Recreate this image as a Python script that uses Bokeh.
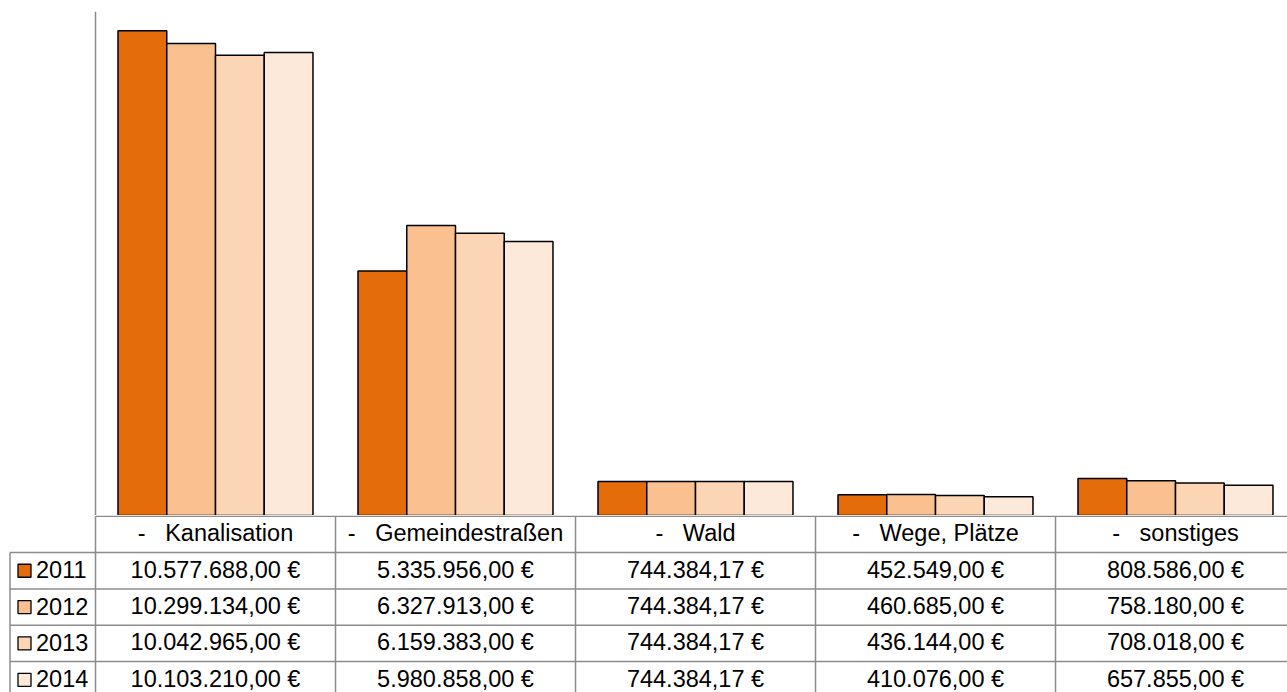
from bokeh.plotting import figure
from bokeh.models import Range1d, Span
from bokeh.layouts import column
from bokeh.embed import file_html
from bokeh.resources import INLINE
from bokeh.core.properties import value

categories = ["Kanalisation", "Gemeindestraßen", "Wald", "Wege, Plätze", "sonstiges"]
years = ["2011", "2012", "2013", "2014"]
v2011 = [10577688.00, 5335956.00, 744384.17, 452549.00, 808586.00]
v2012 = [10299134.00, 6327913.00, 744384.17, 460685.00, 758180.00]
v2013 = [10042965.00, 6159383.00, 744384.17, 436144.00, 708018.00]
v2014 = [10103210.00, 5980858.00, 744384.17, 410076.00, 657855.00]
series = [v2011, v2012, v2013, v2014]
colors = ["#E46C0A", "#FAC090", "#FCD5B5", "#FDE9D9"]

FONT = value("Liberation Sans")
FSIZE = "23.5px"
GRID = "#8c8c8c"


def fmt(v):
    s = f"{v:,.2f}"
    s = s.replace(",", "X").replace(".", ",").replace("X", ".")
    return s + "\u00a0€"


W = 1287
COLW = 240.0
x_start = -0.5 - 95.0 / COLW
x_end = x_start + W / COLW
xr = Range1d(x_start, x_end)

# ---------- bar chart ----------
p = figure(width=W, height=515, x_range=xr, y_range=Range1d(0, 11e6),
           x_axis_type=None, y_axis_type=None, output_backend="svg",
           toolbar_location=None, min_border_left=0, min_border_right=0,
           min_border_bottom=0, min_border_top=11)
p.outline_line_color = None
p.background_fill_color = "white"
bw = 0.2031
n = len(categories)
for j, (vals, col) in enumerate(zip(series, colors)):
    xs = [i + (j - 1.5) * bw for i in range(n)]
    p.vbar(x=xs, top=vals, bottom=0, width=bw, fill_color=col,
           line_color="black", line_width=1.5)
p.add_layout(Span(location=-0.5, dimension="height", line_color=GRID, line_width=1.5))

# ---------- data table ----------
t = figure(width=W, height=177, x_range=xr, y_range=Range1d(start=4.85, end=-0.02),
           x_axis_type=None, y_axis_type=None, output_backend="svg",
           toolbar_location=None, min_border=0)
t.outline_line_color = None

leg_left = x_start + 9.5 / COLW
nrows = len(years)
# horizontal lines
hx0 = [-0.5] + [leg_left] * (nrows + 1)
hx1 = [n - 0.5] * (nrows + 2)
hy = list(range(0, nrows + 2))
t.segment(x0=hx0, y0=hy, x1=hx1, y1=hy, line_color=GRID, line_width=1.5)
# vertical lines
vx = [i - 0.5 for i in range(n + 1)] + [leg_left]
vy0 = [0] * (n + 1) + [1]
vy1 = [nrows + 1] * (n + 2)
t.segment(x0=vx, y0=vy0, x1=vx, y1=vy1, line_color=GRID, line_width=1.5)

# header labels
t.text(x=list(range(n)), y=[0.5] * n,
       text=["-\u00a0\u00a0\u00a0" + c for c in categories],
       text_font=FONT, text_font_size=FSIZE, text_color="black",
       text_align="center", text_baseline="middle", y_offset=-1)

# data rows
for r, vals in enumerate(series):
    t.text(x=list(range(n)), y=[r + 1.5] * n, text=[fmt(v) for v in vals],
           text_font=FONT, text_font_size=FSIZE, text_color="black",
           text_align="center", text_baseline="middle", y_offset=-1)

# legend keys
key_x = x_start + 24.0 / COLW
lab_x = x_start + 35.5 / COLW
ys = [r + 1.5 for r in range(nrows)]
t.rect(x=[key_x] * nrows, y=ys, width=13, height=13, width_units="screen",
       height_units="screen", fill_color=colors, line_color="black", line_width=1.3)
t.text(x=[lab_x] * nrows, y=ys, text=years, text_font=FONT, text_font_size=FSIZE,
       text_color="black", text_align="left", text_baseline="middle", y_offset=-1)

layout = column(p, t, spacing=0)
open("out.html", "w").write(file_html(layout, INLINE))
